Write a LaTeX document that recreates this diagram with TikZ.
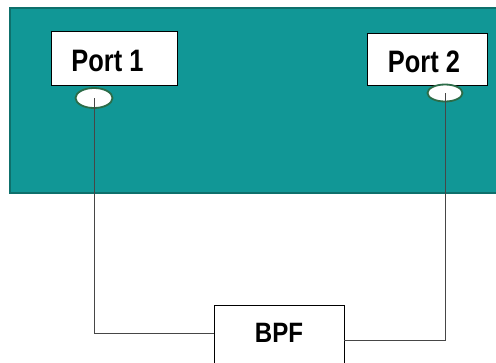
\documentclass[tikz,border=0pt]{standalone}
\usepackage{fontspec}
\setmainfont{Liberation Sans}
\usetikzlibrary{shapes.geometric}
\definecolor{tealfill}{RGB}{17,151,150}
\definecolor{tealedge}{RGB}{14,112,108}
\definecolor{portedge}{RGB}{44,108,72}
\definecolor{wire}{RGB}{70,70,70}
\tikzset{
  labelbox/.style={draw=black, line width=0.9pt, fill=white, inner sep=0pt},
  porttext/.style={inner sep=0pt, font=\bfseries\fontsize{31}{36}\selectfont},
  filtertext/.style={inner sep=0pt, font=\bfseries\fontsize{28}{33}\selectfont},
  portring/.style={ellipse, draw=portedge, line width=1.8pt, fill=white, inner sep=0pt},
  wireline/.style={draw=wire, line width=0.8pt}
}
\begin{document}
\begin{tikzpicture}[x=1pt,y=-1pt]
\useasboundingbox (0,0) rectangle (496,362);
\clip (0,0) rectangle (496,362);
\fill[white] (0,0) rectangle (496,362);
\draw[fill=tealfill, draw=tealedge, line width=2pt] (10,8) rectangle (520,193);
\node[labelbox, minimum width=126pt, minimum height=54pt] (p1) at (114,58) {};
\node[porttext] (t1) at (107.5,60.5) {\scalebox{0.82}[1]{Port 1}};
\node[labelbox, minimum width=120pt, minimum height=52pt] (p2) at (427,59) {};
\node[porttext] (t2) at (424,62) {\scalebox{0.82}[1]{Port 2}};
\node[portring, minimum width=37pt, minimum height=20pt] (e1) at (94,98) {};
\node[portring, minimum width=35pt, minimum height=17pt] (e2) at (445,93) {};
\node[labelbox, minimum width=130pt, minimum height=62pt] (bpf) at (279,336) {};
\node[filtertext] (tb) at (279,333.3) {\scalebox{0.86}[1]{BPF}};
\draw[wireline] (e1.center) |- ([yshift=3pt]bpf.west);
\draw[wireline] (e2.center) |- ([yshift=-4pt]bpf.east);
\end{tikzpicture}
\end{document}
